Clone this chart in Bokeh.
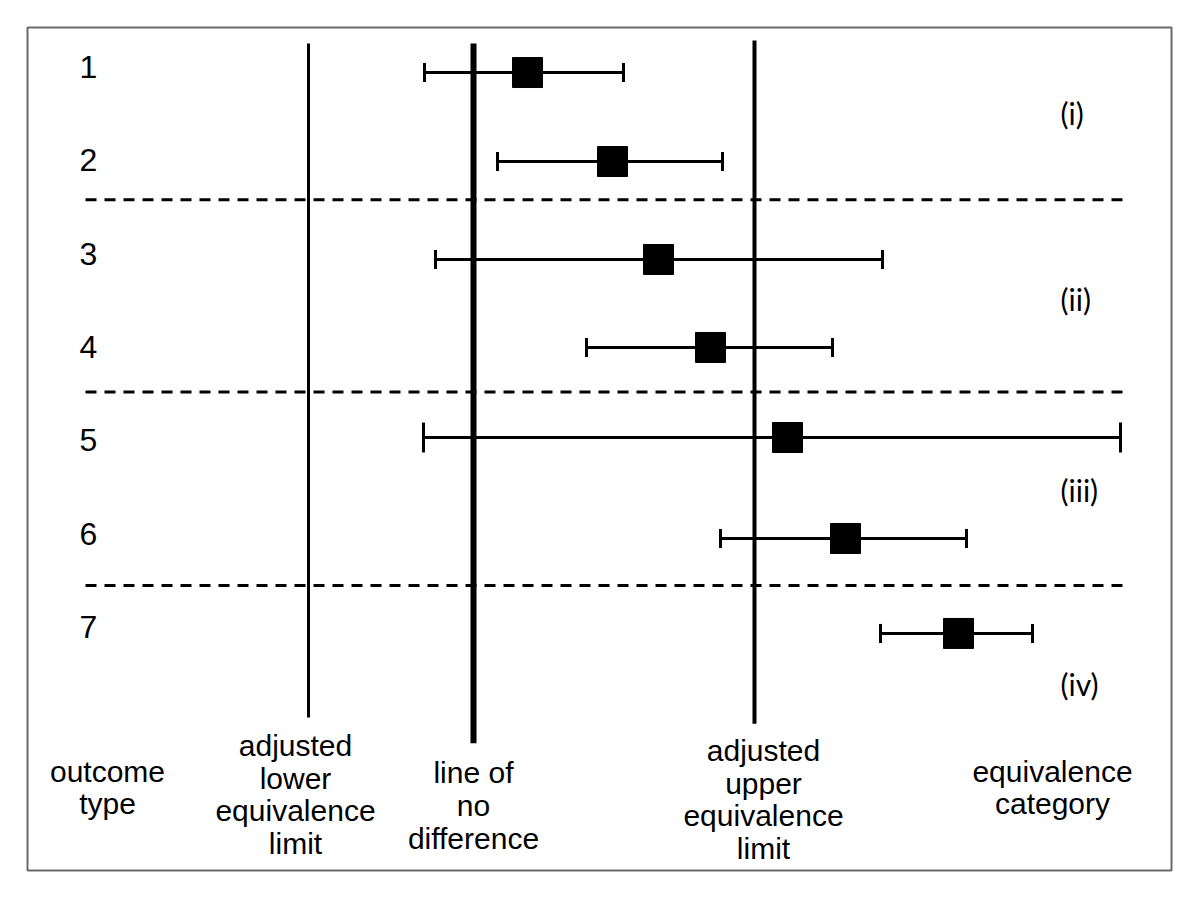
from bokeh.plotting import figure
from bokeh.models import Range1d, ColumnDataSource
from bokeh.core.properties import value
from bokeh.embed import file_html
from bokeh.resources import INLINE

# ---- data (schematic units: 0 = line of no difference) ----
outcomes = [1, 2, 3, 4, 5, 6, 7]
outcome_labels = ["1", "2", "3", "4", "5", "6", "7"]
estimates = [0.54, 1.39, 1.85, 2.37, 3.14, 3.72, 4.85]
lower_ci = [-0.49, 0.24, -0.38, 1.13, -0.50, 2.47, 4.07]
upper_ci = [1.50, 2.49, 4.09, 3.59, 6.47, 4.93, 5.59]

categories = ["(i)", "(ii)", "(iii)", "(iv)"]
category_y = [1.46, 3.45, 5.50, 7.57]

no_difference = 0.0
lower_limit = -1.65
upper_limit = 2.81
separators = [2.39, 4.45, 6.52]

bottom_labels = ["outcome\ntype",
                 "adjusted\nlower\nequivalence\nlimit",
                 "line of\nno\ndifference",
                 "adjusted\nupper\nequivalence\nlimit",
                 "equivalence\ncategory"]
bottom_x = [-3.66, -1.78, 0.0, 2.90, 5.79]
bottom_y = [8.684, 8.758, 8.876, 8.812, 8.684]

# ---- layout / styles ----
row_pos = [1.028, 1.981, 3.030, 3.972, 4.936, 6.017, 7.034]
cap_half = [0.102, 0.102, 0.102, 0.102, 0.16, 0.102, 0.102]

p = figure(width=1173, height=872,
           x_range=Range1d(-4.46, 6.98), y_range=Range1d(9.572, 0.546),
           x_axis_location=None, y_axis_location=None,
           toolbar_location=None, output_backend="svg",
           min_border_left=27, min_border_top=27,
           min_border_right=2, min_border_bottom=2)
p.grid.visible = False
p.outline_line_color = "#6a6a6a"
p.outline_line_width = 2
p.background_fill_color = "white"
p.border_fill_color = "white"

# vertical reference lines
p.segment(x0=[lower_limit], y0=[0.717], x1=[lower_limit], y1=[7.935],
          line_color="black", line_width=3)
p.segment(x0=[no_difference], y0=[0.717], x1=[no_difference], y1=[8.21],
          line_color="black", line_width=6)
p.segment(x0=[upper_limit], y0=[0.685], x1=[upper_limit], y1=[8.0],
          line_color="black", line_width=4)

# dashed separators
p.segment(x0=[-3.88] * len(separators), y0=separators,
          x1=[6.50] * len(separators), y1=separators,
          line_color="black", line_width=3, line_dash="11 8")

# confidence intervals
src = ColumnDataSource(dict(
    y=row_pos, est=estimates, lo=lower_ci, hi=upper_ci,
    y0=[o - c for o, c in zip(row_pos, cap_half)],
    y1=[o + c for o, c in zip(row_pos, cap_half)],
))
p.segment(x0="lo", y0="y", x1="hi", y1="y", source=src,
          line_color="black", line_width=3)
p.segment(x0="lo", y0="y0", x1="lo", y1="y1", source=src,
          line_color="black", line_width=3)
p.segment(x0="hi", y0="y0", x1="hi", y1="y1", source=src,
          line_color="black", line_width=3)
p.scatter(x="est", y="y", source=src, marker="square", size=30,
          fill_color="black", line_color="black")

# outcome numbers
p.text(x=[-3.85] * len(outcomes), y=outcomes, text=outcome_labels,
       text_font=value("Liberation Sans"), text_font_size="32px",
       text_align="center", text_baseline="middle", y_offset=-3,
       text_color="black")

# equivalence categories
p.text(x=[5.87] * len(categories), y=category_y, text=categories,
       text_font=value("Lato"), text_font_size="30px",
       text_align="left", text_baseline="middle", text_color="black")

# bottom annotations
p.text(x=bottom_x, y=bottom_y, text=bottom_labels,
       text_font=value("Liberation Sans"), text_font_size="30px",
       text_align="center", text_baseline="middle",
       text_line_height=0.99, text_color="black")

open("out.html", "w").write(file_html(p, INLINE))
